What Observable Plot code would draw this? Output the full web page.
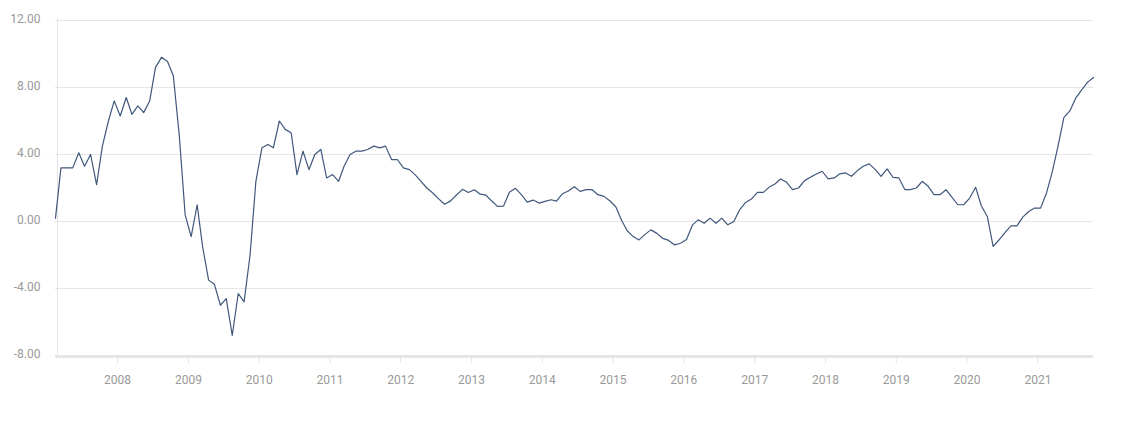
<!DOCTYPE html>
<html>
<head>
<meta charset="utf-8">
<script src="https://cdn.jsdelivr.net/npm/d3@7"></script>
<script src="https://cdn.jsdelivr.net/npm/@observablehq/plot@0.6"></script>
<style>
  html, body { margin: 0; padding: 0; background: #fff; }
  #chart svg { display: block; }
</style>
</head>
<body>
<div id="chart"></div>
<script>
// Monthly series, first value = February 2007, last = October 2021
const startYear = 2007;
const startMonth = 2;
const values = [
  0.2, 3.2, 3.2, 3.2, 4.1, 3.3, 4.0, 2.2, 4.5, 6.0, 7.2,             // 2007 Feb-Dec
  6.3, 7.4, 6.4, 6.9, 6.5, 7.2, 9.2, 9.8, 9.55, 8.7, 5.1, 0.4,        // 2008
  -0.9, 1.0, -1.5, -3.5, -3.75, -5.0, -4.6, -6.8, -4.3, -4.8, -2.0, 2.4, // 2009
  4.4, 4.6, 4.4, 6.0, 5.5, 5.3, 2.8, 4.2, 3.1, 4.0, 4.3, 2.6,         // 2010
  2.8, 2.4, 3.3, 4.0, 4.2, 4.2, 4.3, 4.5, 4.4, 4.5, 3.7, 3.7,         // 2011
  3.2, 3.1, 2.8, 2.4, 2.0, 1.7, 1.35, 1.03, 1.23, 1.58, 1.92, 1.73,   // 2012
  1.9, 1.63, 1.58, 1.22, 0.9, 0.92, 1.74, 1.98, 1.6, 1.16, 1.28, 1.1, // 2013
  1.2, 1.3, 1.22, 1.66, 1.82, 2.08, 1.8, 1.9, 1.9, 1.6, 1.5, 1.24,    // 2014
  0.88, 0.05, -0.55, -0.9, -1.1, -0.77, -0.5, -0.71, -1.01, -1.13, -1.4, -1.3, // 2015
  -1.08, -0.2, 0.1, -0.1, 0.2, -0.1, 0.2, -0.2, 0.0, 0.7, 1.14, 1.34, // 2016
  1.74, 1.74, 2.04, 2.24, 2.54, 2.34, 1.9, 2.0, 2.44, 2.64, 2.84, 3.0, // 2017
  2.54, 2.6, 2.84, 2.9, 2.7, 3.04, 3.3, 3.44, 3.1, 2.7, 3.14, 2.64,   // 2018
  2.6, 1.9, 1.9, 2.0, 2.4, 2.1, 1.6, 1.6, 1.9, 1.46, 1.0, 1.0,        // 2019
  1.4, 2.04, 0.94, 0.3, -1.49, -1.09, -0.66, -0.26, -0.26, 0.26, 0.6, 0.8, // 2020
  0.8, 1.72, 2.9, 4.5, 6.2, 6.6, 7.36, 7.86, 8.32, 8.6               // 2021 Jan-Oct
];
const yearTicks = [2008, 2009, 2010, 2011, 2012, 2013, 2014, 2015, 2016, 2017, 2018, 2019, 2020, 2021];
const yTicks = [-8, -4, 0, 4, 8, 12];

const data = values.map((v, i) => ({date: new Date(startYear, startMonth - 1 + i, 15), value: v}));
const tickDates = yearTicks.map(y => new Date(y, 0, 1));

const chart = Plot.plot({
  width: 1123,
  height: 422,
  marginLeft: 55,
  marginRight: 30,
  marginTop: 20,
  marginBottom: 67,
  style: {fontFamily: "Roboto, 'Open Sans', sans-serif", fontSize: "12px", background: "#fff"},
  x: {type: "time", domain: [data[0].date, data[data.length - 1].date], label: null},
  y: {domain: [-8, 12], label: null},
  marks: [
    Plot.gridY(yTicks, {stroke: "#e6e6e6", strokeOpacity: 1, strokeWidth: 1}),
    Plot.ruleX([data[0].date], {stroke: "#e3e3e3", strokeWidth: 1, dx: 2, y1: 12.1, y2: -8}),
    Plot.ruleY([-8], {stroke: "#e6e6e6", strokeWidth: 3, dy: 1}),
    Plot.axisY(yTicks, {tickSize: 0, tickPadding: 15, tickFormat: d => d.toFixed(2), fill: "#999", dy: -1, label: null}),
    Plot.axisX(tickDates, {tickSize: 8, tickPadding: 12, tickFormat: d => String(d.getFullYear()), stroke: "#e3e3e3", fill: "#999", strokeOpacity: 1, label: null}),
    Plot.line(data, {x: "date", y: "value", stroke: "#40577c", strokeWidth: 1.2})
  ]
});
document.getElementById("chart").appendChild(chart);
</script>
</body>
</html>
